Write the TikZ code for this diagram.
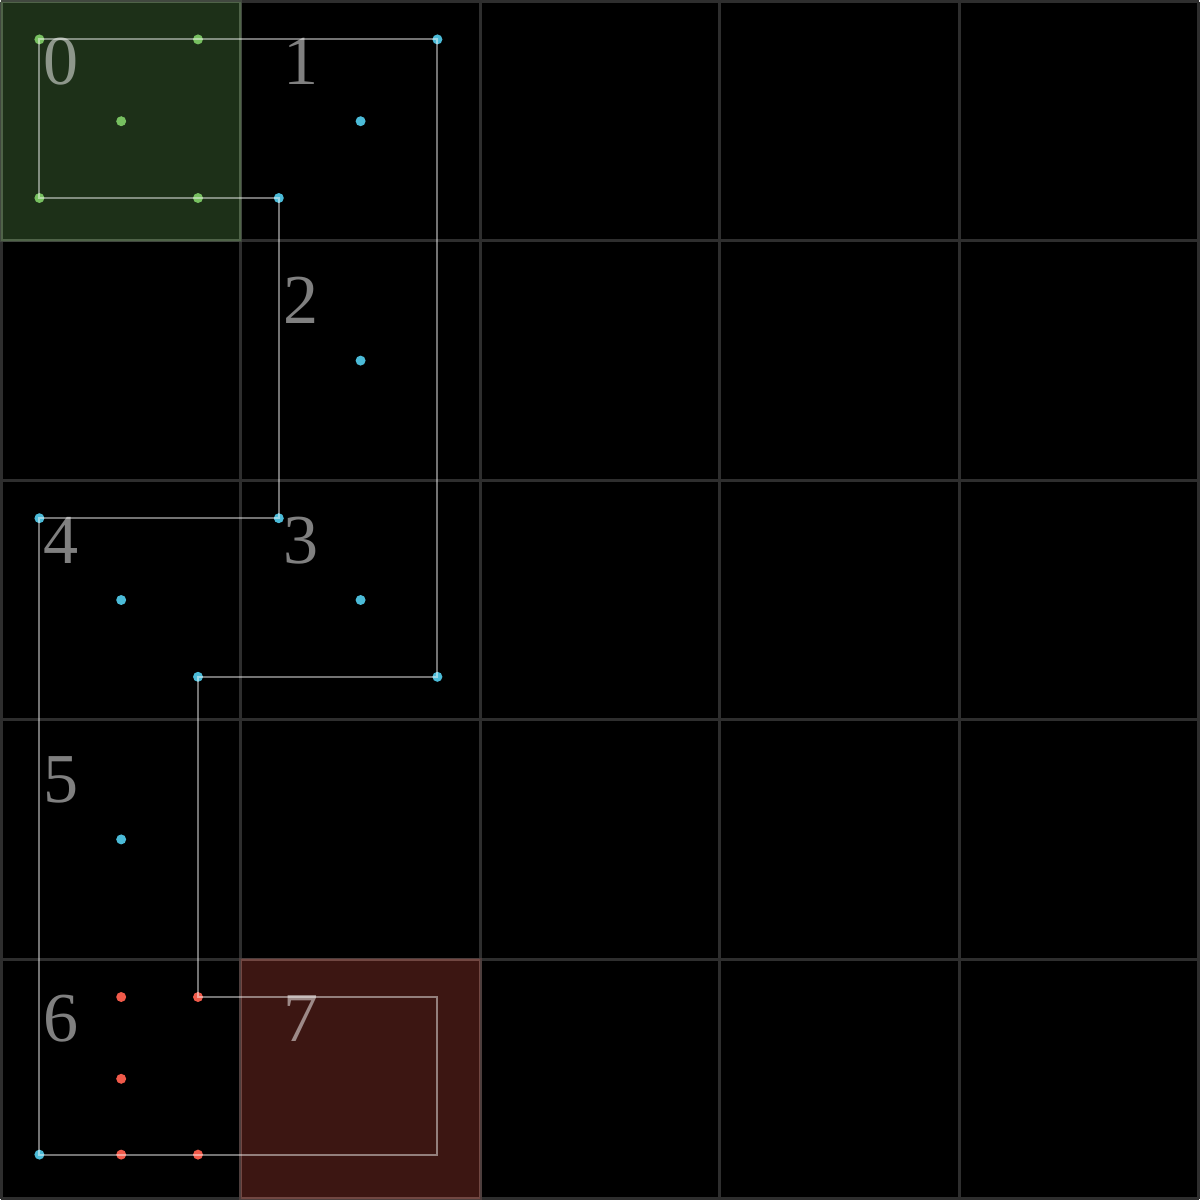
\documentclass[tikz,border=0pt]{standalone}
\usepackage{fontspec}
\setmainfont{Liberation Serif}
\definecolor{dotgreen}{HTML}{77C060}
\definecolor{dotcyan}{HTML}{4BBBD8}
\definecolor{dotred}{HTML}{F05A4A}
\definecolor{gridgray}{HTML}{2E2E2E}
\begin{document}
\begin{tikzpicture}[
  x=1cm, y=-1cm,
  gridline/.style={draw=gridgray, line width=0.03cm},
  cellfill/.style={fill=#1, fill opacity=0.25, draw=#1!40!gray, draw opacity=0.25, line width=0.03cm},
  dot/.style={circle, fill=#1, inner sep=0pt, minimum size=0.1cm},
  route/.style={draw=white, draw opacity=0.45, line width=0.02cm, line join=miter},
  lab/.style={text=white, text opacity=0.5, inner sep=0pt, font=\fontsize{20}{24}\selectfont}
]
\fill[black] (0,0) rectangle (12,12);
% grid
\foreach \i in {0,...,5} {
  \draw[gridline] (\i*2.4,0) -- (\i*2.4,12);
  \draw[gridline] (0,\i*2.4) -- (12,\i*2.4);
}
\path[cellfill=dotgreen] (0,0) rectangle (2.4,2.4);
\path[cellfill=dotred] (2.4,9.6) rectangle (4.8,12);
% dots
\node[dot=dotgreen] (g0) at (0.38,0.38) {};
\node[dot=dotgreen] (g1) at (1.97,0.38) {};
\node[dot=dotgreen] (g2) at (1.2,1.2) {};
\node[dot=dotgreen] (g3) at (0.38,1.97) {};
\node[dot=dotgreen] (g4) at (1.97,1.97) {};
\node[dot=dotcyan] (c0) at (4.37,0.38) {};
\node[dot=dotcyan] (c1) at (3.6,1.2) {};
\node[dot=dotcyan] (c2) at (2.78,1.97) {};
\node[dot=dotcyan] (c3) at (3.6,3.6) {};
\node[dot=dotcyan] (c4) at (2.78,5.18) {};
\node[dot=dotcyan] (c5) at (0.38,5.18) {};
\node[dot=dotcyan] (c6) at (1.2,6.0) {};
\node[dot=dotcyan] (c7) at (3.6,6.0) {};
\node[dot=dotcyan] (c8) at (4.37,6.77) {};
\node[dot=dotcyan] (c9) at (1.97,6.77) {};
\node[dot=dotcyan] (c10) at (1.2,8.4) {};
\node[dot=dotcyan] (c11) at (0.38,11.56) {};
\node[dot=dotred] (r0) at (1.2,9.98) {};
\node[dot=dotred] (r1) at (1.97,9.98) {};
\node[dot=dotred] (r2) at (1.2,10.8) {};
\node[dot=dotred] (r3) at (1.2,11.56) {};
\node[dot=dotred] (r4) at (1.97,11.56) {};
\coordinate (v0) at (4.37,9.98);
\coordinate (v1) at (4.37,11.56);
% route
\draw[route] (g0.center) -- (c0.center) -- (c8.center) -- (c9.center) -- (r1.center)
  -- (v0) -- (v1) -- (c11.center) -- (c5.center) -- (c4.center) -- (c2.center)
  -- (g3.center) -- cycle;
% cell numbers
\node[lab] (l0) at (0.6,0.6) {0};
\node[lab] (l1) at (3.0,0.6) {1};
\node[lab] (l2) at (3.0,3.0) {2};
\node[lab] (l3) at (3.0,5.4) {3};
\node[lab] (l4) at (0.6,5.4) {4};
\node[lab] (l5) at (0.6,7.8) {5};
\node[lab] (l6) at (0.6,10.2) {6};
\node[lab] (l7) at (3.0,10.2) {7};
\end{tikzpicture}
\end{document}
